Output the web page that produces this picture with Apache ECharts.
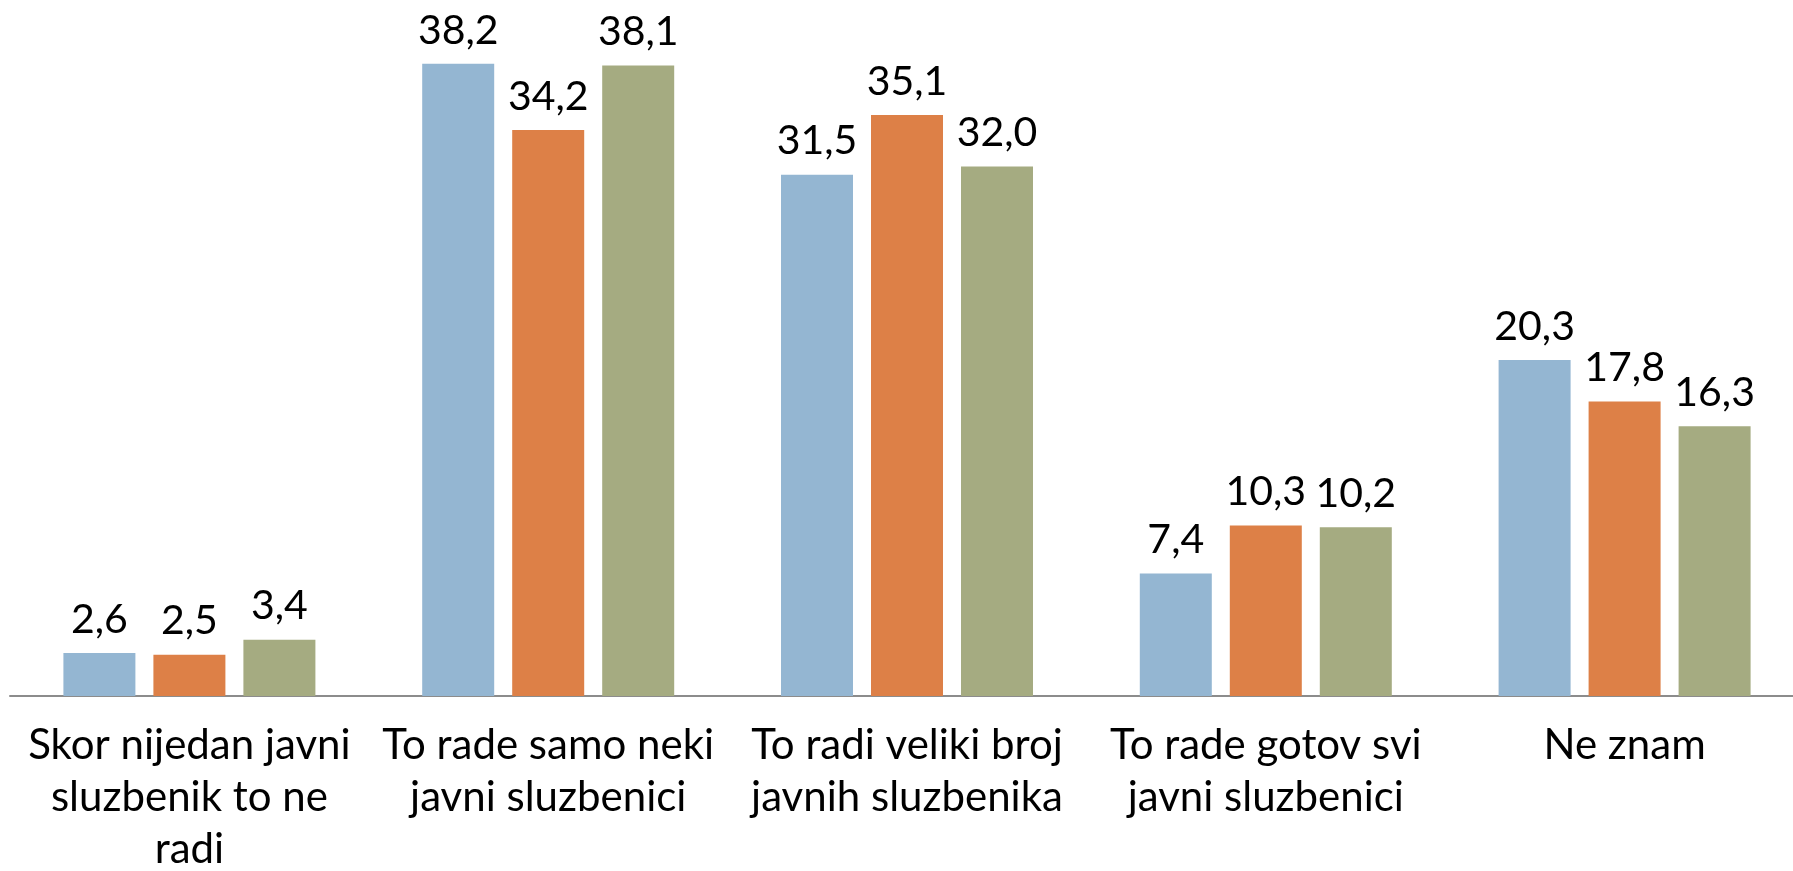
<!DOCTYPE html>
<html>
<head>
<meta charset="utf-8">
<script src="https://cdn.jsdelivr.net/npm/echarts@6/dist/echarts.min.js"></script>
<style>
    html, body { margin: 0; padding: 0; background: #fff; }
    #barChart { width: 1793px; height: 871px; }
</style>
</head>
<body>
<div id="barChart"></div>
<script>
    // kategorije i vrijednosti (tri serije)
    var categories = [
        "Skor nijedan javni\nsluzbenik to ne\nradi",
        "To rade samo neki\njavni sluzbenici",
        "To radi veliki broj\njavnih sluzbenika",
        "To rade gotov svi\njavni sluzbenici",
        "Ne znam"
    ];
    var seriesA = [2.6, 38.2, 31.5, 7.4, 20.3];
    var seriesB = [2.5, 34.2, 35.1, 10.3, 17.8];
    var seriesC = [3.4, 38.1, 32.0, 10.2, 16.3];
    var colors = ["#94B6D2", "#DD8047", "#A5AB81"];

    var myChart = echarts.init(document.getElementById("barChart"));

    function makeSeries(name, data, color) {
        return {
            name: name,
            type: "bar",
            data: data,
            barWidth: 72,
            barGap: "25%",
            itemStyle: { color: color },
            label: {
                show: true,
                position: "top",
                distance: 13,
                color: "#000",
                fontFamily: "Lato",
                fontSize: 41,
                formatter: function(p) {
                    return p.value.toFixed(1).replace(".", ",");
                }
            }
        };
    }

    var option = {
        animation: false,
        grid: {
            left: 10,
            width: 1794,
            top: 34,
            height: 662,
            outerBoundsMode: "none",
            containLabel: false
        },
        xAxis: {
            type: "category",
            data: categories,
            axisLine: { lineStyle: { color: "#8c8c8c", width: 2 } },
            axisTick: { show: false },
            axisLabel: {
                interval: 0,
                margin: 23,
                color: "#000",
                fontFamily: "Lato",
                fontSize: 42,
                lineHeight: 52
            }
        },
        yAxis: {
            type: "value",
            min: 0,
            max: 40,
            show: false,
            splitLine: { show: false }
        },
        series: [
            makeSeries("A", seriesA, colors[0]),
            makeSeries("B", seriesB, colors[1]),
            makeSeries("C", seriesC, colors[2])
        ]
    };

    myChart.setOption(option);
</script>
</body>
</html>
